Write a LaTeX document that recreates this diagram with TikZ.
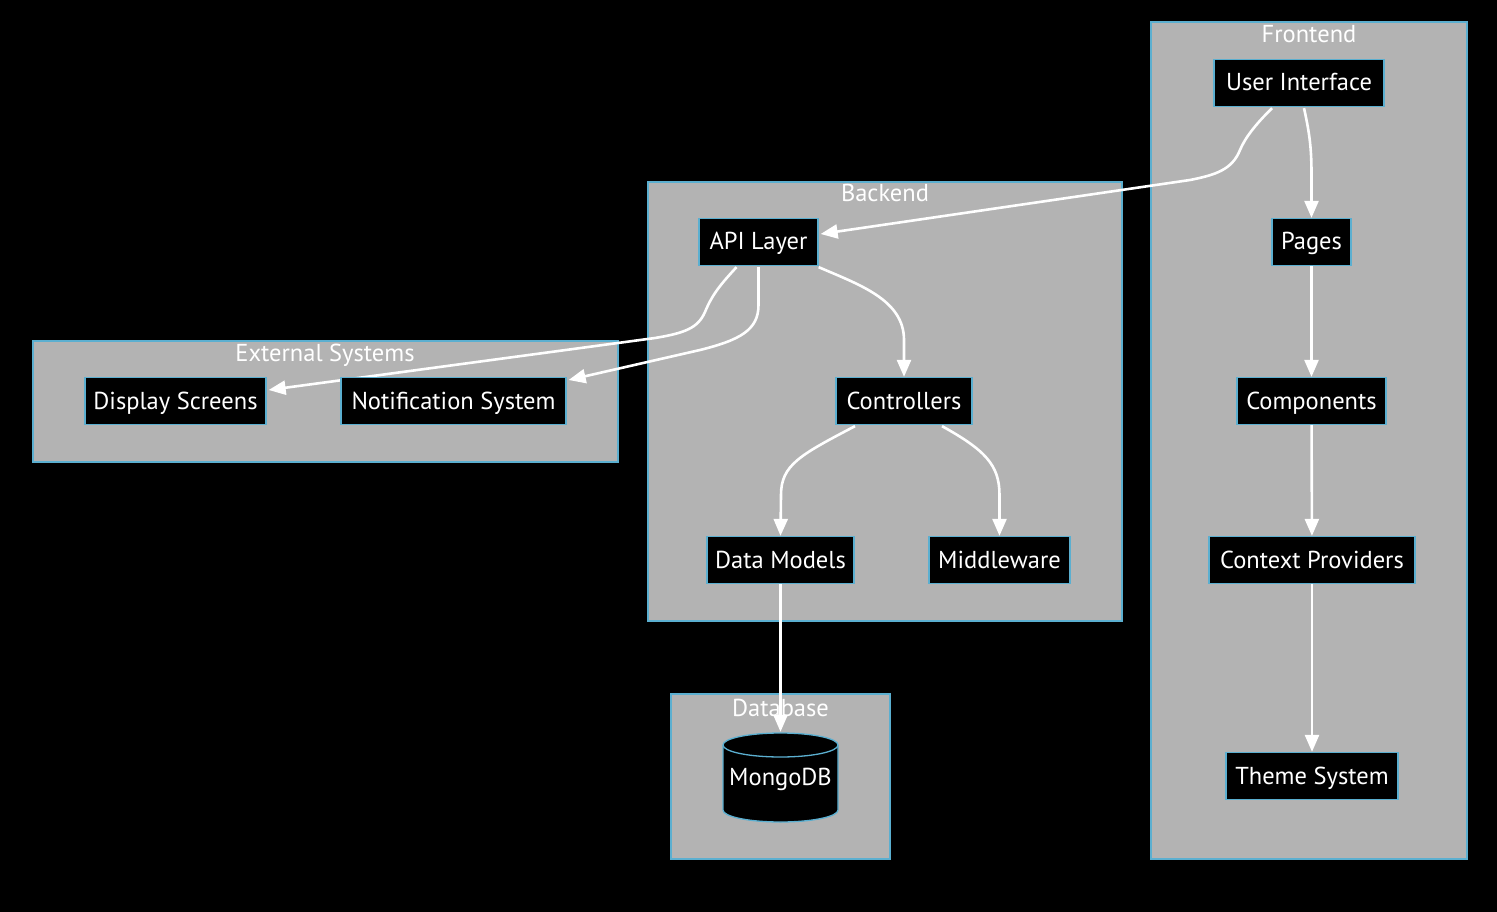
\documentclass[tikz,border=0pt]{standalone}
\usepackage{fontspec}
\setmainfont{PT Sans}
\usetikzlibrary{arrows.meta,calc}
\definecolor{clusterfill}{HTML}{B3B3B3}
\definecolor{edgeblue}{HTML}{5BAFD0}
\pgfdeclarelayer{bg}
\pgfdeclarelayer{edges}
\pgfsetlayers{bg,edges,main}
\tikzset{
  txt/.style={text=white, font=\fontsize{24.5}{28}\selectfont,
    text height=20pt, text depth=4pt},
  box/.style={txt, draw=edgeblue, line width=1.3pt, fill=black,
    minimum height=47pt, inner sep=0pt},
  cluster/.style={draw=edgeblue, line width=1.3pt, fill=clusterfill},
  clabel/.style={txt, inner sep=0pt},
  flow/.style={draw=white, line width=2.6pt,
    -{Triangle[length=17pt,width=14pt]}},
}
\begin{document}
\begin{tikzpicture}[x=1pt,y=-1pt]
\useasboundingbox (0,0) rectangle (1497,912);

% nodes
\node[box, minimum width=170pt] (ui)    at (1299,83)  {User Interface};
\node[box, minimum width=79pt]  (pages) at (1311.5,242) {Pages};
\node[box, minimum width=149pt] (comp)  at (1311.5,401) {Components};
\node[box, minimum width=206pt] (ctx)   at (1312,560) {Context Providers};
\node[box, minimum width=172pt] (theme) at (1312,776) {Theme System};

\node[box, minimum width=119pt] (api)   at (758.5,242) {API Layer};
\node[box, minimum width=136pt] (ctrl)  at (904,401)  {Controllers};
\node[box, minimum width=147pt] (dm)    at (780.5,560) {Data Models};
\node[box, minimum width=141pt] (mw)    at (999.5,560) {Middleware};

\node[box, minimum width=181pt] (disp)  at (175.5,401) {Display Screens};
\node[box, minimum width=225pt] (notif) at (453.5,401) {Notification System};

% database cylinder
\node[minimum width=115pt, minimum height=90pt, inner sep=0pt] (mongo) at (780.5,777) {};
\draw[edgeblue, line width=1.3pt, fill=black]
  (723,745) -- (723,810) arc[start angle=180, end angle=360, x radius=57.5pt, y radius=12pt]
  -- (838,745) arc[start angle=0, end angle=180, x radius=57.5pt, y radius=12pt] -- cycle;
\draw[edgeblue, line width=1.3pt]
  (723,745) arc[start angle=180, end angle=360, x radius=57.5pt, y radius=12pt];
\node[txt, inner sep=0pt] (mongotext) at (780.5,777) {MongoDB};

% page background and subgraph frames
\begin{pgfonlayer}{bg}
  \fill[black] (0,0) rectangle (1497,912);
  \draw[cluster] (1151,22) rectangle (1467,859);
  \node[clabel] (lfront) at (1309,35) {Frontend};
  \draw[cluster] (648,182) rectangle (1122,621);
  \node[clabel] (lback) at (885,194) {Backend};
  \draw[cluster] (33,341) rectangle (618,462);
  \node[clabel] (lext) at (325,353) {External Systems};
  \draw[cluster] (671,694) rectangle (890,859);
  \node[clabel] (ldb) at (780.5,708) {Database};
\end{pgfonlayer}

% connectors
\begin{pgfonlayer}{edges}
  \draw[flow] ($(ui.south)+(-27,1)$) .. controls (1255,125) and (1245,138) .. (1240,150)
    .. controls (1232,170) and (1215,175) .. (1190,180) -- ($(api.east)+(2,-8)$);
  \draw[flow] ($(ui.south)+(5,1)$) .. controls (1310,135) and (1311.5,150) .. (1311.5,175)
    -- (pages.north);
  \draw[flow] (pages) -- (comp);
  \draw[flow] (comp) -- (ctx);
  \draw[flow] (ctx) -- (theme);
  \draw[flow] ($(api.south east)+(0,1)$) .. controls (860,285) and (904,300) .. (904,340)
    -- (ctrl.north);
  \draw[flow] ($(api.south)+(-22,1)$) .. controls (720,285) and (712,295) .. (705,312)
    .. controls (698,328) and (685,333) .. (655,338) -- ($(disp.east)+(2,-11)$);
  \draw[flow] ($(api.south)+(0,1)$) -- (758.5,305) .. controls (758.5,330) and (740,340) .. (700,350)
    -- ($(notif.east)+(2,-21)$);
  \draw[flow] ($(ctrl.south)+(-49,1)$) .. controls (800,455) and (781,465) .. (781,495)
    -- (dm.north);
  \draw[flow] ($(ctrl.south)+(38,1)$) .. controls (985,450) and (999.5,465) .. (999.5,495)
    -- (mw.north);
  \draw[flow] (dm.south) -- (mongo.north);
\end{pgfonlayer}
\end{tikzpicture}
\end{document}
